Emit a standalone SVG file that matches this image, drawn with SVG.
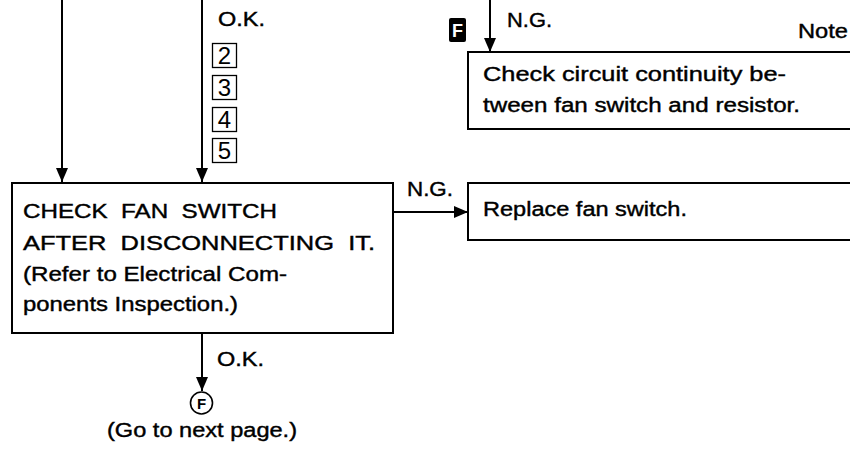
<svg xmlns="http://www.w3.org/2000/svg" width="850" height="451" viewBox="0 0 850 451">
<defs>
<style>
.box{fill:#fff;stroke:#000;stroke-width:2}
.ln{fill:none;stroke:#000;stroke-width:2}
.t{font-family:"Liberation Sans",Arial,sans-serif;font-size:20px;fill:#000;stroke:#000;stroke-width:0.4;white-space:pre}
.num{font-family:"Liberation Sans",Arial,sans-serif;font-size:24px;fill:#000;text-anchor:middle}
.nb{fill:#fff;stroke:#000;stroke-width:1.3}
</style>
<marker id="ah" viewBox="0 0 14 12" refX="14" refY="6" markerWidth="14" markerHeight="12" markerUnits="userSpaceOnUse" orient="auto">
<path d="M0,0 L14,6 L0,12 z" fill="#000"/>
</marker>
</defs>
<rect width="850" height="451" fill="#fff"/>

<g id="connectors">
<line class="ln" x1="62" y1="0" x2="62" y2="182" marker-end="url(#ah)"/>
<line class="ln" x1="202" y1="0" x2="202" y2="182" marker-end="url(#ah)"/>
<text class="t" x="218" y="26" textLength="47" lengthAdjust="spacingAndGlyphs">O.K.</text>
<line class="ln" x1="490" y1="0" x2="490" y2="52" marker-end="url(#ah)"/>
<text class="t" x="507" y="27" textLength="45" lengthAdjust="spacingAndGlyphs">N.G.</text>
<line class="ln" x1="393" y1="212" x2="468" y2="212" marker-end="url(#ah)"/>
<text class="t" x="407" y="196" textLength="46" lengthAdjust="spacingAndGlyphs">N.G.</text>
<line class="ln" x1="202" y1="334" x2="202" y2="391" marker-end="url(#ah)"/>
<text class="t" x="217" y="366" textLength="47" lengthAdjust="spacingAndGlyphs">O.K.</text>
</g>

<g id="step-labels">
<rect class="nb" x="212.5" y="43.5" width="24" height="24"/>
<text class="num" x="224.5" y="64">2</text>
<rect class="nb" x="212.5" y="75.5" width="24" height="24"/>
<text class="num" x="224.5" y="96">3</text>
<rect class="nb" x="212.5" y="107.5" width="24" height="24"/>
<text class="num" x="224.5" y="128">4</text>
<rect class="nb" x="212.5" y="138.5" width="24" height="24"/>
<text class="num" x="224.5" y="159">5</text>
</g>

<g id="marker-F">
<rect x="449" y="18" width="17" height="24" rx="2" fill="#000"/>
<text x="457.5" y="37" font-family="'Liberation Sans',Arial,sans-serif" font-size="18" font-weight="bold" fill="#fff" text-anchor="middle">F</text>
</g>

<g id="note">
<text class="t" x="798" y="38" textLength="50" lengthAdjust="spacingAndGlyphs" font-size="21">Note</text>
</g>

<g id="check-circuit">
<rect class="box" x="468" y="52" width="390" height="77"/>
<text class="t" x="483" y="81" textLength="303" lengthAdjust="spacingAndGlyphs">Check circuit continuity be-</text>
<text class="t" x="483" y="112" textLength="317" lengthAdjust="spacingAndGlyphs">tween fan switch and resistor.</text>
</g>

<g id="check-fan-switch">
<rect class="box" x="12" y="183" width="381" height="150"/>
<text class="t" x="23" y="218" textLength="254" lengthAdjust="spacingAndGlyphs" xml:space="preserve">CHECK  FAN  SWITCH</text>
<text class="t" x="23" y="250" textLength="352" lengthAdjust="spacingAndGlyphs" xml:space="preserve">AFTER  DISCONNECTING  IT.</text>
<text class="t" x="23" y="281" textLength="264" lengthAdjust="spacingAndGlyphs">(Refer to Electrical Com-</text>
<text class="t" x="23" y="311" textLength="215" lengthAdjust="spacingAndGlyphs">ponents Inspection.)</text>
</g>

<g id="replace-fan-switch">
<rect class="box" x="468" y="183" width="390" height="57"/>
<text class="t" x="483" y="216" textLength="204" lengthAdjust="spacingAndGlyphs">Replace fan switch.</text>
</g>

<g id="goto-F">
<circle cx="201.5" cy="403" r="11" fill="#fff" stroke="#000" stroke-width="1.6"/>
<text x="201.5" y="409" font-family="'Liberation Sans',Arial,sans-serif" font-size="15" font-weight="bold" text-anchor="middle">F</text>
<text class="t" x="107" y="437" textLength="190" lengthAdjust="spacingAndGlyphs">(Go to next page.)</text>
</g>
</svg>
